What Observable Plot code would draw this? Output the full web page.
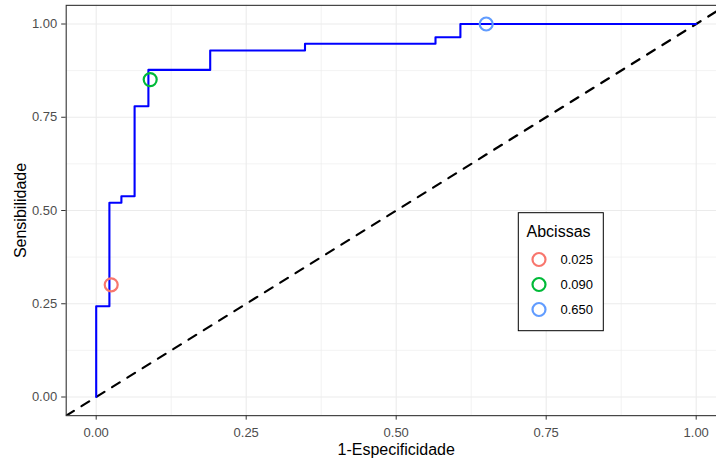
<!DOCTYPE html>
<html>
<head>
<meta charset="utf-8">
<script src="https://cdn.jsdelivr.net/npm/d3@7"></script>
<script src="https://cdn.jsdelivr.net/npm/@observablehq/plot@0.6"></script>
<style>
  html, body { margin: 0; padding: 0; background: #fff; overflow: hidden; }
  #chart svg { overflow: hidden; display: block; }
</style>
</head>
<body>
<div id="chart"></div>
<script>
// ROC curve vertices (1-especificidade, sensibilidade)
const fpr = [0, 0, 0.022, 0.042, 0.064, 0.087, 0.19, 0.348, 0.5655, 0.607, 1.0];
const tpr = [0, 0.2434, 0.5206, 0.5383, 0.7796, 0.877, 0.929, 0.947, 0.9646, 1.0, 1.0];

// highlighted cut-off points
const abcissaLabels = ["0.025", "0.090", "0.650"];
const abcissaX = [0.025, 0.090, 0.650];
const abcissaY = [0.3008, 0.851, 1.0];
const abcissaColors = ["#F8766D", "#00BA38", "#619CFF"];

// axes
const axisDomain = [-0.05, 1.05];
const majorTicks = [0, 0.25, 0.5, 0.75, 1];
const minorTicks = [0.125, 0.375, 0.625, 0.875];
const xTitle = "1-Especificidade";
const yTitle = "Sensibilidade";
const legendTitle = "Abcissas";

const roc = fpr.map((x, i) => ({x, y: tpr[i]}));
const pts = abcissaLabels.map((k, i) => ({k, x: abcissaX[i], y: abcissaY[i]}));
const diag = axisDomain.map(v => ({v}));

const font = "Liberation Sans, Arial, Helvetica, sans-serif";

const plot = Plot.plot({
  width: 716,
  height: 459,
  marginLeft: 65.7,
  marginRight: -9.7,
  marginTop: 4.85,
  marginBottom: 43.85,
  style: {fontFamily: font, background: "white", overflow: "hidden"},
  x: {domain: axisDomain, axis: null},
  y: {domain: axisDomain, axis: null},
  color: {domain: abcissaLabels, range: abcissaColors},
  marks: [
    Plot.gridX(minorTicks, {stroke: "#EBEBEB", strokeOpacity: 1, strokeWidth: 0.6}),
    Plot.gridY(minorTicks, {stroke: "#EBEBEB", strokeOpacity: 1, strokeWidth: 0.6}),
    Plot.gridX(majorTicks, {stroke: "#EBEBEB", strokeOpacity: 1, strokeWidth: 1.1}),
    Plot.gridY(majorTicks, {stroke: "#EBEBEB", strokeOpacity: 1, strokeWidth: 1.1}),
    Plot.line(diag, {x: "v", y: "v", stroke: "black", strokeWidth: 2.2, strokeDasharray: "9,9", clip: true}),
    Plot.line(roc, {x: "x", y: "y", curve: "step-after", stroke: "#0000FF", strokeWidth: 2.1}),
    Plot.dot(pts, {x: "x", y: "y", r: 6.5, stroke: "k", strokeWidth: 2.2, fill: "none"}),
    Plot.frame({stroke: "#333333", strokeWidth: 1.1}),
    Plot.axisX(majorTicks, {tickSize: 4.5, tickPadding: 7.8, stroke: "#333333", fill: "#4D4D4D",
      fontSize: 13, tickFormat: d3.format(".2f"), label: null}),
    Plot.axisY(majorTicks, {tickSize: 4.5, tickPadding: 4.5, stroke: "#333333", fill: "#4D4D4D",
      fontSize: 13, tickFormat: d3.format(".2f"), label: null}),
    Plot.text([xTitle], {frameAnchor: "bottom", lineAnchor: "middle", textAnchor: "middle",
      dy: 33.8, fontSize: 16, fill: "black", text: d => d}),
    Plot.text([yTitle], {frameAnchor: "left", lineAnchor: "middle", textAnchor: "middle",
      dx: -45.8, rotate: -90, fontSize: 16, fill: "black", text: d => d})
  ]
});

document.getElementById("chart").appendChild(plot);

// legend
const color = plot.scale("color");
const svg = d3.select(plot);
const lg = svg.append("g").attr("font-family", font).attr("text-anchor", "start");
lg.append("rect").attr("x", 518.3).attr("y", 212.7).attr("width", 85).attr("height", 118)
  .attr("fill", "white").attr("stroke", "black").attr("stroke-width", 1);
lg.append("text").attr("x", 526.5).attr("y", 236.5).attr("font-size", 16).attr("fill", "black").text(legendTitle);
abcissaLabels.forEach((k, i) => {
  const cy = 259.5 + i * 25;
  lg.append("circle").attr("cx", 539).attr("cy", cy).attr("r", 6.5)
    .attr("fill", "none").attr("stroke", color.apply(k)).attr("stroke-width", 2.2);
  lg.append("text").attr("x", 560.5).attr("y", cy + 4.7).attr("font-size", 13).attr("fill", "black").text(k);
});
</script>
</body>
</html>
